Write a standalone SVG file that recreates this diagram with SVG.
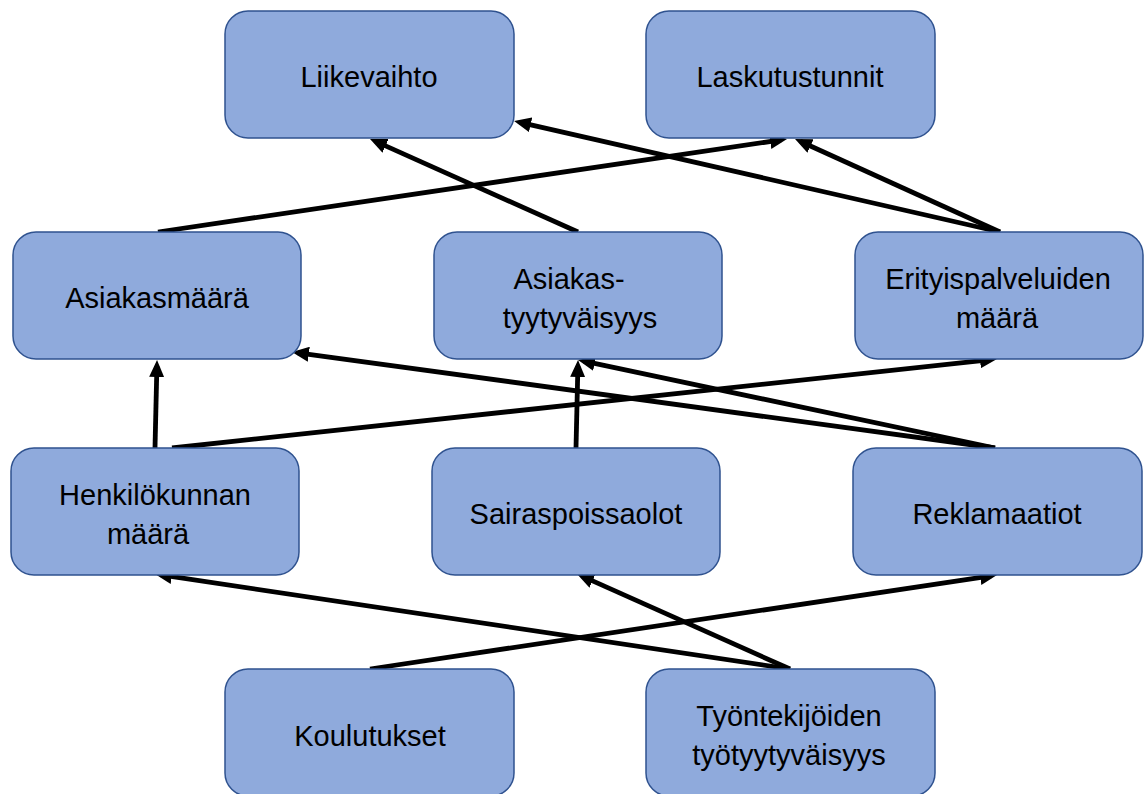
<svg xmlns="http://www.w3.org/2000/svg" width="1144" height="794" viewBox="0 0 1144 794">
<style>
.box{fill:#8FAADC;stroke:#2F528F;stroke-width:1.5}
.t{font-family:"Liberation Sans",Arial,sans-serif;font-size:29px;fill:#000;text-anchor:middle}
.c{stroke:#000;stroke-width:4.8;fill:none;marker-end:url(#ah)}
</style>
<defs>
<marker id="ah" markerUnits="userSpaceOnUse" viewBox="0 0 17 15" markerWidth="17" markerHeight="15" refX="11" refY="7.5" orient="auto">
<path d="M0,0 L17,7.5 L0,15 z" fill="#000"/>
</marker>
</defs>
<rect width="1144" height="794" fill="#fff"/>
<g id="connectors">
<line class="c" x1="578" y1="232" x2="375.5" y2="141.4"/>
<line class="c" x1="158" y1="232" x2="781.1" y2="139.9"/>
<line class="c" x1="1000" y1="232" x2="519.9" y2="122.3"/>
<line class="c" x1="1000" y1="232" x2="800.5" y2="141.5"/>
<line class="c" x1="155" y1="448" x2="156.9" y2="366"/>
<line class="c" x1="172" y1="448" x2="991" y2="359.6"/>
<line class="c" x1="995" y1="448" x2="297.9" y2="352.8"/>
<line class="c" x1="995" y1="448" x2="583.9" y2="361.2"/>
<line class="c" x1="576" y1="448" x2="577.9" y2="366"/>
<line class="c" x1="370" y1="669" x2="991.1" y2="575.9"/>
<line class="c" x1="790" y1="669" x2="160.9" y2="574.9"/>
<line class="c" x1="790" y1="669" x2="582.5" y2="576.4"/>
</g>
<g id="liikevaihto"><rect class="box" x="225" y="11" width="289" height="127" rx="23"/><text class="t" x="369" y="87">Liikevaihto</text></g>
<g id="laskutustunnit"><rect class="box" x="646" y="11" width="289" height="127" rx="23"/><text class="t" x="790" y="87">Laskutustunnit</text></g>
<g id="asiakasmaara"><rect class="box" x="13" y="232" width="288" height="127" rx="23"/><text class="t" x="157" y="308">Asiakasmäärä</text></g>
<g id="asiakastyytyvaisyys"><rect class="box" x="434" y="232" width="288" height="127" rx="23"/><text class="t" x="569" y="289">Asiakas-</text><text class="t" x="580" y="328">tyytyväisyys</text></g>
<g id="erityispalveluiden"><rect class="box" x="855" y="232" width="288" height="127" rx="23"/><text class="t" x="998" y="289">Erityispalveluiden</text><text class="t" x="997" y="328">määrä</text></g>
<g id="henkilokunnan"><rect class="box" x="11" y="448" width="288" height="127" rx="23"/><text class="t" x="155" y="505">Henkilökunnan</text><text class="t" x="148" y="544">määrä</text></g>
<g id="sairaspoissaolot"><rect class="box" x="432" y="448" width="288" height="127" rx="23"/><text class="t" x="576" y="524">Sairaspoissaolot</text></g>
<g id="reklamaatiot"><rect class="box" x="853" y="448" width="289" height="127" rx="23"/><text class="t" x="997" y="524">Reklamaatiot</text></g>
<g id="koulutukset"><rect class="box" x="225" y="669" width="289" height="127" rx="23"/><text class="t" x="370" y="746">Koulutukset</text></g>
<g id="tyontekijoiden"><rect class="box" x="646" y="669" width="289" height="127" rx="23"/><text class="t" x="789" y="726">Työntekijöiden</text><text class="t" x="789" y="765">työtyytyväisyys</text></g>
</svg>
